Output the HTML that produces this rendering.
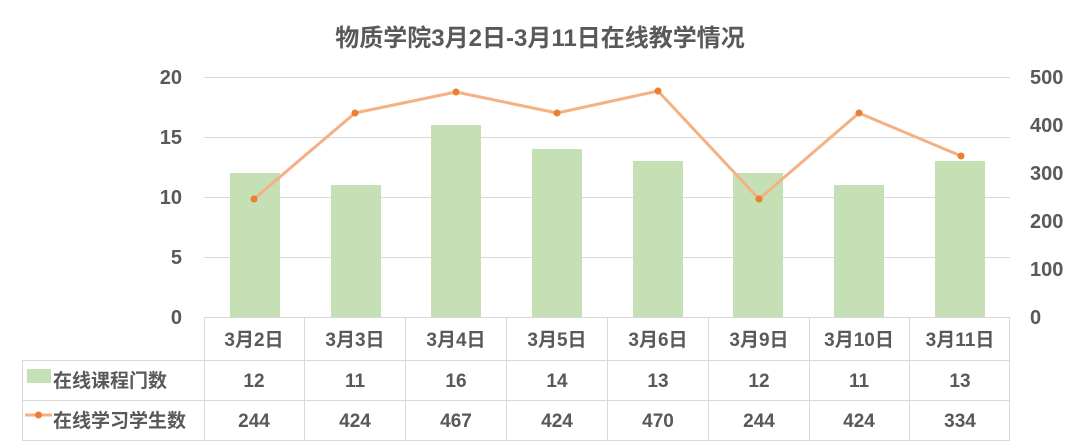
<!DOCTYPE html>
<html><head><meta charset="utf-8"><style>body{margin:0;background:#fff}svg{display:block}text{font-family:"Liberation Sans","Noto Sans CJK SC",sans-serif;font-weight:bold;fill:#595959}</style></head>
<body>
<svg width="1080" height="447" viewBox="0 0 1080 447">
<text x="540" y="46" font-size="24" text-anchor="middle">物质学院3月2日-3月11日在线教学情况</text>
<g stroke="#d9d9d9" stroke-width="1">
<line x1="204" y1="77.5" x2="1010" y2="77.5"/><line x1="204" y1="137.5" x2="1010" y2="137.5"/><line x1="204" y1="197.5" x2="1010" y2="197.5"/><line x1="204" y1="257.5" x2="1010" y2="257.5"/>
</g>
<g font-size="20" text-anchor="end">
<text x="182" y="84">20</text><text x="182" y="144">15</text><text x="182" y="204">10</text><text x="182" y="264">5</text><text x="182" y="324">0</text>
</g>
<g font-size="20" text-anchor="start">
<text x="1030" y="84">500</text><text x="1030" y="132">400</text><text x="1030" y="180">300</text><text x="1030" y="228">200</text><text x="1030" y="276">100</text><text x="1030" y="324">0</text>
</g>
<g fill="#c5e0b4">
<rect x="230" y="173" width="50" height="144"/><rect x="331" y="185" width="50" height="132"/><rect x="431" y="125" width="50" height="192"/><rect x="532" y="149" width="50" height="168"/><rect x="633" y="161" width="50" height="156"/><rect x="733" y="173" width="50" height="144"/><rect x="834" y="185" width="50" height="132"/><rect x="935" y="161" width="50" height="156"/>
</g>
<polyline points="254,199 355,113 456,92 557,113 658,91 759,199 859,113 961,156" fill="none" stroke="#f4b183" stroke-width="3" stroke-linejoin="round"/>
<g fill="#ed7d31">
<circle cx="254" cy="199" r="3.5"/><circle cx="355" cy="113" r="3.5"/><circle cx="456" cy="92" r="3.5"/><circle cx="557" cy="113" r="3.5"/><circle cx="658" cy="91" r="3.5"/><circle cx="759" cy="199" r="3.5"/><circle cx="859" cy="113" r="3.5"/><circle cx="961" cy="156" r="3.5"/>
</g>
<g stroke="#d9d9d9" stroke-width="1" fill="none">
<line x1="204" y1="317.5" x2="1010" y2="317.5"/>
<line x1="22" y1="360.5" x2="1010" y2="360.5"/>
<line x1="22" y1="400.5" x2="1010" y2="400.5"/>
<line x1="22" y1="440.5" x2="1010" y2="440.5"/>
<line x1="22.5" y1="360" x2="22.5" y2="440"/>
<line x1="204.5" y1="317" x2="204.5" y2="440"/><line x1="304.5" y1="317" x2="304.5" y2="440"/><line x1="405.5" y1="317" x2="405.5" y2="440"/><line x1="506.5" y1="317" x2="506.5" y2="440"/><line x1="607.5" y1="317" x2="607.5" y2="440"/><line x1="708.5" y1="317" x2="708.5" y2="440"/><line x1="809.5" y1="317" x2="809.5" y2="440"/><line x1="909.5" y1="317" x2="909.5" y2="440"/><line x1="1009.5" y1="317" x2="1009.5" y2="440"/>
</g>
<g font-size="19" text-anchor="middle">
<text x="254" y="346">3月2日</text><text x="355" y="346">3月3日</text><text x="456" y="346">3月4日</text><text x="557" y="346">3月5日</text><text x="658" y="346">3月6日</text><text x="759" y="346">3月9日</text><text x="859" y="346">3月10日</text><text x="960" y="346">3月11日</text>
<text x="254" y="387">12</text><text x="355" y="387">11</text><text x="456" y="387">16</text><text x="557" y="387">14</text><text x="658" y="387">13</text><text x="759" y="387">12</text><text x="859" y="387">11</text><text x="960" y="387">13</text>
<text x="254" y="427">244</text><text x="355" y="427">424</text><text x="456" y="427">467</text><text x="557" y="427">424</text><text x="658" y="427">470</text><text x="759" y="427">244</text><text x="859" y="427">424</text><text x="960" y="427">334</text>
</g>
<rect x="27" y="369" width="24" height="14" fill="#c5e0b4"/>
<text x="53" y="387" font-size="19">在线课程门数</text>
<line x1="25" y1="415" x2="52" y2="415" stroke="#f4b183" stroke-width="3"/>
<circle cx="38.5" cy="415" r="3.5" fill="#ed7d31"/>
<text x="53" y="427" font-size="19">在线学习学生数</text>
</svg>
</body></html>
